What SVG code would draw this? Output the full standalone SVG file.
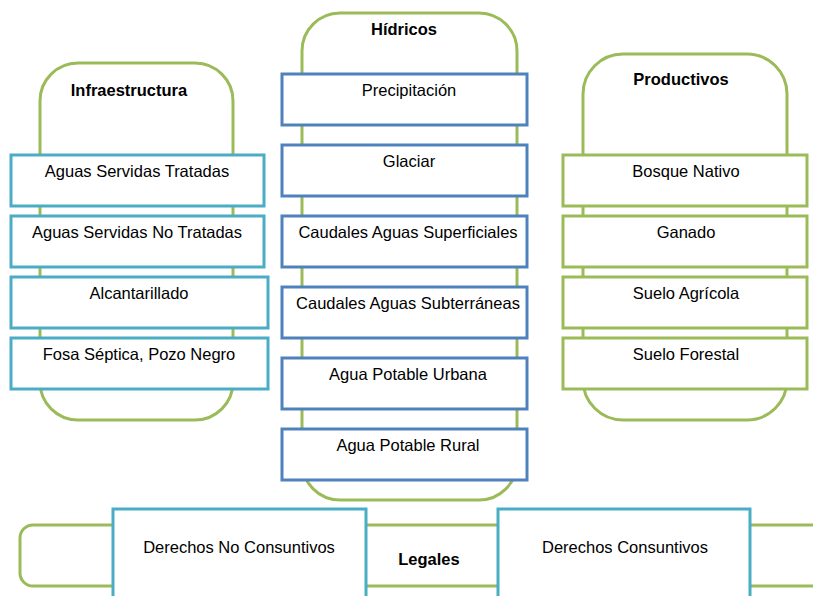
<svg xmlns="http://www.w3.org/2000/svg" width="813" height="596" viewBox="0 0 813 596">
<style>
.grp{fill:#fff;stroke:#9BBB59;stroke-width:3}
.bc{fill:#fff;stroke:#4BACC6;stroke-width:3}
.bb{fill:#fff;stroke:#4F81BD;stroke-width:3}
.bg{fill:#fff;stroke:#9BBB59;stroke-width:3}
text{font-family:"Liberation Sans",Arial,sans-serif;font-size:16.5px;fill:#000;text-anchor:middle}
.t{font-weight:bold}
</style>
<rect width="813" height="596" fill="#fff"/>
<g id="legales">
<rect class="grp" x="20" y="525" width="830" height="61" rx="13"/>
<text class="t" x="429" y="565">Legales</text>
</g>
<g id="infraestructura">
<rect class="grp" x="40" y="63" width="193" height="357" rx="38"/>
<text class="t" x="129" y="96">Infraestructura</text>
</g>
<g id="hidricos">
<rect class="grp" x="302" y="13" width="215" height="487" rx="38"/>
<text class="t" x="404" y="35">Hídricos</text>
</g>
<g id="productivos">
<rect class="grp" x="583" y="54" width="204" height="366" rx="40"/>
<text class="t" x="681" y="85">Productivos</text>
</g>
<g id="connectors"></g>
<g id="n-ast"><rect class="bc" x="11" y="155" width="253" height="51"/><text x="137" y="177">Aguas Servidas Tratadas</text></g>
<g id="n-asnt"><rect class="bc" x="11" y="216" width="253" height="51"/><text x="137" y="238">Aguas Servidas No Tratadas</text></g>
<g id="n-alc"><rect class="bc" x="11" y="277" width="257" height="51"/><text x="139" y="299">Alcantarillado</text></g>
<g id="n-fosa"><rect class="bc" x="11" y="338" width="257" height="51"/><text x="139" y="360">Fosa Séptica, Pozo Negro</text></g>
<g id="n-prec"><rect class="bb" x="282" y="74" width="245" height="51"/><text x="409" y="96">Precipitación</text></g>
<g id="n-glac"><rect class="bb" x="282" y="145" width="245" height="51"/><text x="409" y="167">Glaciar</text></g>
<g id="n-cas"><rect class="bb" x="282" y="216" width="245" height="51"/><text x="408" y="238">Caudales Aguas Superficiales</text></g>
<g id="n-casub"><rect class="bb" x="282" y="287" width="245" height="51"/><text x="408" y="309">Caudales Aguas Subterráneas</text></g>
<g id="n-apu"><rect class="bb" x="282" y="358" width="245" height="51"/><text x="408" y="380">Agua Potable Urbana</text></g>
<g id="n-apr"><rect class="bb" x="282" y="429" width="245" height="51"/><text x="408" y="451">Agua Potable Rural</text></g>
<g id="n-bosque"><rect class="bg" x="563" y="155" width="244" height="51"/><text x="686" y="177">Bosque Nativo</text></g>
<g id="n-ganado"><rect class="bg" x="563" y="216" width="244" height="51"/><text x="686" y="238">Ganado</text></g>
<g id="n-agric"><rect class="bg" x="563" y="277" width="244" height="51"/><text x="686" y="299">Suelo Agrícola</text></g>
<g id="n-forest"><rect class="bg" x="563" y="338" width="244" height="51"/><text x="686" y="360">Suelo Forestal</text></g>
<g id="n-dnc"><rect class="bc" x="113" y="509" width="253" height="100"/><text x="239" y="553">Derechos No Consuntivos</text></g>
<g id="n-dc"><rect class="bc" x="498" y="509" width="252" height="100"/><text x="625" y="553">Derechos Consuntivos</text></g>
</svg>
